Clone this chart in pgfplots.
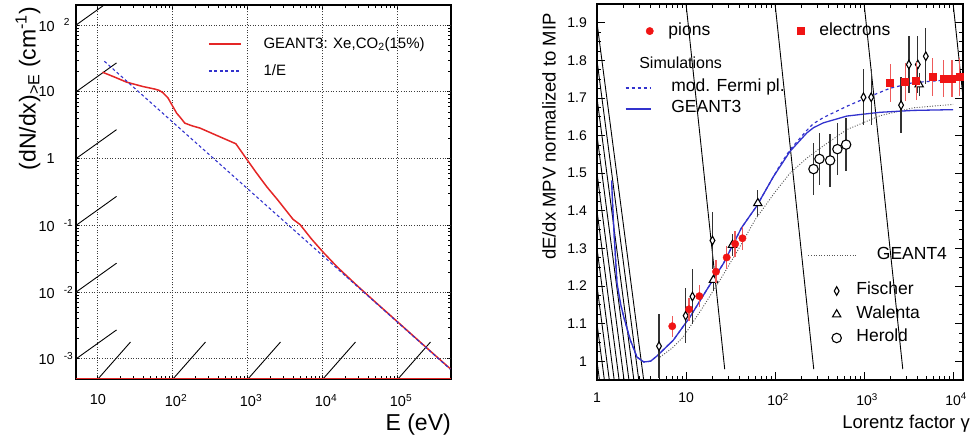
\documentclass[border=0pt]{standalone}
\usepackage{fontspec}
\setmainfont{Liberation Sans}
\usepackage{pgfplots}
\pgfplotsset{compat=1.18}
\definecolor{g3red}{RGB}{228,38,38}
\definecolor{eblue}{RGB}{50,50,205}
\definecolor{pired}{RGB}{240,20,20}
\definecolor{errred}{RGB}{238,90,90}
\definecolor{errgray}{RGB}{50,50,50}
\definecolor{g4gray}{RGB}{85,85,85}
\definecolor{gridgray}{RGB}{60,60,60}
\tikzset{tk/.style={black, line width=0.9pt}, gl/.style={gridgray, dash pattern=on 1pt off 1.6pt, line width=0.9pt}}

\pgfplotsset{
  lgd/.style={legend cell align=left,
    legend style={draw=none, fill=none, inner sep=0pt, outer sep=0pt,
      font=\fontsize{17.5}{20}\selectfont,
      nodes={inner sep=0pt, text height=12pt, text depth=4pt}}},
}

\begin{document}
\begin{tikzpicture}
\path (0,0) rectangle (973pt,440pt);

% ---------------- left panel ----------------
\begin{axis}[scale only axis, anchor=south west,
  axis line style={line width=1.3pt},
  tick align=inside,
  tick style={black, line width=0.9pt},
  lgd,
  at={(76pt,61pt)}, width=375pt, height=374pt,
  xmode=log, ymode=log,
  xmin=5.1, xmax=5.1e5, ymin=5e-4, ymax=200,
  grid=major,
  grid style={gridgray, dash pattern=on 1pt off 1.6pt, line width=0.9pt},
  xtick={10,100,1000,10000,100000},
  xticklabels={10, 10\rlap{\textsuperscript{2}}, 10\rlap{\textsuperscript{3}}, 10\rlap{\textsuperscript{4}}, 10\rlap{\textsuperscript{5}}},
  ytick={1e-3,1e-2,1e-1,1,10,100},
  yticklabels={10\rlap{\hspace{9pt}\textsuperscript{-3}}, 10\rlap{\hspace{9pt}\textsuperscript{-2}}, 10\rlap{\hspace{9pt}\textsuperscript{-1}}, 1\hspace{-4pt}, 10, 10\rlap{\hspace{9pt}\textsuperscript{2}}},
  tick label style={font=\fontsize{14.5}{16}\selectfont},
  xticklabel style={anchor=north, inner sep=0pt, yshift=-15pt},
  yticklabel style={anchor=east, inner sep=0pt, xshift=-21pt},
  xlabel={E (eV)},
  xlabel style={at={(axis description cs:1,0)}, anchor=north east, inner sep=0pt, yshift=-35pt, font=\fontsize{23}{26}\selectfont},
  ylabel={(dN/dx)\textsubscript{>E} (cm\textsuperscript{-1})},
  ylabel style={at={(axis description cs:-0.128,0.995)}, anchor=east, inner sep=0pt, font=\fontsize{23}{26}\selectfont},
  legend image code/.code={\draw[#1] (0pt,0pt) -- (32pt,0pt);},
  legend style={at={(0.352,0.917)}, anchor=north west, font=\fontsize{15}{17}\selectfont,
    /tikz/every odd column/.append style={column sep=22pt}, row sep=11pt},
]
\draw[gl] (axis cs:10,5e-4) -- (axis cs:10,200);
\draw[gl] (axis cs:100,5e-4) -- (axis cs:100,200);
\draw[gl] (axis cs:1000,5e-4) -- (axis cs:1000,200);
\draw[gl] (axis cs:10000,5e-4) -- (axis cs:10000,200);
\draw[gl] (axis cs:100000,5e-4) -- (axis cs:100000,200);
\draw[gl] (axis cs:5.1,1e-3) -- (axis cs:5.1e5,1e-3);
\draw[gl] (axis cs:5.1,1e-2) -- (axis cs:5.1e5,1e-2);
\draw[gl] (axis cs:5.1,1e-1) -- (axis cs:5.1e5,1e-1);
\draw[gl] (axis cs:5.1,1) -- (axis cs:5.1e5,1);
\draw[gl] (axis cs:5.1,10) -- (axis cs:5.1e5,10);
\draw[gl] (axis cs:5.1,100) -- (axis cs:5.1e5,100);
\draw[tk] (axis cs:10,5e-4) -- ++(0,8pt);
\draw[tk] (axis cs:100,5e-4) -- ++(0,8pt);
\draw[tk] (axis cs:1000,5e-4) -- ++(0,8pt);
\draw[tk] (axis cs:10000,5e-4) -- ++(0,8pt);
\draw[tk] (axis cs:100000,5e-4) -- ++(0,8pt);
\draw[tk] (axis cs:10,200) -- ++(0,-8pt);
\draw[tk] (axis cs:100,200) -- ++(0,-8pt);
\draw[tk] (axis cs:1000,200) -- ++(0,-8pt);
\draw[tk] (axis cs:10000,200) -- ++(0,-8pt);
\draw[tk] (axis cs:100000,200) -- ++(0,-8pt);
\draw[tk] (axis cs:5.1,1e-3) -- ++(8pt,0);
\draw[tk] (axis cs:5.1,1e-2) -- ++(8pt,0);
\draw[tk] (axis cs:5.1,1e-1) -- ++(8pt,0);
\draw[tk] (axis cs:5.1,1) -- ++(8pt,0);
\draw[tk] (axis cs:5.1,10) -- ++(8pt,0);
\draw[tk] (axis cs:5.1,100) -- ++(8pt,0);
\draw[tk] (axis cs:5.1e5,1e-3) -- ++(-8pt,0);
\draw[tk] (axis cs:5.1e5,1e-2) -- ++(-8pt,0);
\draw[tk] (axis cs:5.1e5,1e-1) -- ++(-8pt,0);
\draw[tk] (axis cs:5.1e5,1) -- ++(-8pt,0);
\draw[tk] (axis cs:5.1e5,10) -- ++(-8pt,0);
\draw[tk] (axis cs:5.1e5,100) -- ++(-8pt,0);
\addplot[g3red, line width=1.5pt] coordinates {
(11.5,19.7) (17,16.5) (24,14) (40,12) (57.5,11) (66,10.5) (73.6,9.7) (86,8.1)
(100,6.0) (112,4.8) (124,4.2) (144,3.4) (180,3.1) (229,2.87) (400,2.18) (690,1.67)
(800,1.32) (970,0.97) (1300,0.61) (1780,0.38) (2500,0.24) (4000,0.123) (4950,0.103)
(7000,0.063) (10000,0.040) (15400,0.024) (20000,0.0182) (30000,0.0119) (50000,0.0071)
(100000,0.00355) (200000,0.00177) (500000,0.00071)
};
\addlegendentry{GEANT3: Xe,CO\textsubscript{2}(15\%)}
\addplot[eblue, line width=1.1pt, dash pattern=on 3pt off 2.5pt] coordinates {
(12.2,28.7) (100,3.5) (1000,0.35) (10000,0.035) (100000,0.0035) (500000,0.0007)
};
\addlegendentry{1/E}
\addplot[g3red, line width=1.6pt, forget plot] coordinates {(5.1,5.06e-4) (5.1e5,5.06e-4)};
\end{axis}

% ---------------- right panel: frame + GEANT4 ----------------
\begin{axis}[scale only axis, anchor=south west,
  axis line style={line width=1.3pt},
  major tick length=8pt, minor tick length=4pt,
  tick style={black, line width=0.9pt},
  lgd,
  at={(597pt,60pt)}, width=366pt, height=376pt,
  xmode=log, xmin=1, xmax=1.29e4, ymin=0.95, ymax=1.95,
  xtick={1,10,100,1000,10000},
  xticklabels={1, 10, 10\rlap{\textsuperscript{2}}, 10\rlap{\textsuperscript{3}}, 10\rlap{\textsuperscript{4}}},
  ytick={1,1.1,1.2,1.3,1.4,1.5,1.6,1.7,1.8,1.9},
  yticklabels={1,1.1,1.2,1.3,1.4,1.5,1.6,1.7,1.8,1.9},
  minor y tick num=3,
  tick label style={font=\fontsize{14}{16}\selectfont},
  xticklabel style={anchor=north, inner sep=0pt, yshift=-13pt},
  yticklabel style={anchor=east, inner sep=0pt, xshift=-10pt},
  xlabel={Lorentz factor γ},
  xlabel style={at={(axis description cs:1,0)}, anchor=north east, inner sep=0pt, xshift=7pt, yshift=-35pt, font=\fontsize{18.5}{20}\selectfont},
  ylabel={dE/dx MPV normalized to MIP},
  ylabel style={at={(axis description cs:-0.131,0.976)}, anchor=east, inner sep=0pt, font=\fontsize{18.5}{20}\selectfont},
  legend image code/.code={\draw[#1] (0pt,0pt) -- (47pt,0pt);},
  legend style={at={(0.5765,0.3324)}, anchor=west,
    /tikz/every odd column/.append style={column sep=21pt}},
]
\draw[tk] (axis cs:10,0.95) -- ++(0,8pt);
\draw[tk] (axis cs:100,0.95) -- ++(0,8pt);
\draw[tk] (axis cs:1000,0.95) -- ++(0,8pt);
\draw[tk] (axis cs:10000,0.95) -- ++(0,8pt);
\draw[tk] (axis cs:10,1.95) -- ++(0,-8pt);
\draw[tk] (axis cs:100,1.95) -- ++(0,-8pt);
\draw[tk] (axis cs:1000,1.95) -- ++(0,-8pt);
\draw[tk] (axis cs:10000,1.95) -- ++(0,-8pt);
\draw[tk] (axis cs:1,1.0) -- ++(8pt,0);
\draw[tk] (axis cs:1,1.1) -- ++(8pt,0);
\draw[tk] (axis cs:1,1.2) -- ++(8pt,0);
\draw[tk] (axis cs:1,1.3) -- ++(8pt,0);
\draw[tk] (axis cs:1,1.4) -- ++(8pt,0);
\draw[tk] (axis cs:1,1.5) -- ++(8pt,0);
\draw[tk] (axis cs:1,1.6) -- ++(8pt,0);
\draw[tk] (axis cs:1,1.7) -- ++(8pt,0);
\draw[tk] (axis cs:1,1.8) -- ++(8pt,0);
\draw[tk] (axis cs:1,1.9) -- ++(8pt,0);
\draw[tk] (axis cs:1.29e4,1.0) -- ++(-8pt,0);
\draw[tk] (axis cs:1.29e4,1.1) -- ++(-8pt,0);
\draw[tk] (axis cs:1.29e4,1.2) -- ++(-8pt,0);
\draw[tk] (axis cs:1.29e4,1.3) -- ++(-8pt,0);
\draw[tk] (axis cs:1.29e4,1.4) -- ++(-8pt,0);
\draw[tk] (axis cs:1.29e4,1.5) -- ++(-8pt,0);
\draw[tk] (axis cs:1.29e4,1.6) -- ++(-8pt,0);
\draw[tk] (axis cs:1.29e4,1.7) -- ++(-8pt,0);
\draw[tk] (axis cs:1.29e4,1.8) -- ++(-8pt,0);
\draw[tk] (axis cs:1.29e4,1.9) -- ++(-8pt,0);
\addplot[g4gray, line width=0.9pt, dash pattern=on 1pt off 1.6pt] coordinates {
(5.1,1.011) (7,1.035) (9.33,1.065) (15.6,1.145) (24.1,1.216) (40.4,1.305) (59.6,1.376)
(100,1.45) (147,1.50) (227,1.54) (349,1.573) (640,1.616) (1513,1.653) (3580,1.674) (10000,1.683)
};
\addlegendentry{GEANT4}
\end{axis}

% ---------------- simulations: mod. Fermi plateau, GEANT3 ----------------
\begin{axis}[hide axis, scale only axis, anchor=south west,
  at={(597pt,60pt)}, width=366pt, height=376pt,
  xmode=log, xmin=1, xmax=1.29e4, ymin=0.95, ymax=1.95, lgd,
  legend image code/.code={\draw[#1] (0pt,0pt) -- (25pt,0pt);},
  legend style={at={(0.0765,0.798)}, anchor=north west, row sep=5pt,
    /tikz/every odd column/.append style={column sep=20pt}}]
\addplot[eblue, line width=1.2pt, dash pattern=on 3pt off 3pt] coordinates {
(1.46,1.48) (1.5,1.413) (1.55,1.345) (1.6,1.29) (1.677,1.208) (1.85,1.15) (1.995,1.118)
(2.37,1.056) (2.81,1.011) (3.35,0.998) (4.0,1.0) (4.72,1.014) (7.2,1.056) (11.1,1.118)
(17.1,1.19) (26.3,1.26) (42,1.355) (62.3,1.413) (95.8,1.491) (114,1.522) (147,1.562)
(227,1.614) (270,1.632) (349,1.648) (640,1.678) (1000,1.698) (1960,1.726) (3580,1.741) (10000,1.749)
};
\addlegendentry{mod. Fermi pl.}
\addplot[eblue, line width=1.3pt] coordinates {
(1.46,1.48) (1.5,1.413) (1.55,1.345) (1.6,1.29) (1.677,1.208) (1.85,1.15) (1.995,1.118)
(2.37,1.056) (2.81,1.011) (3.35,0.998) (4.0,1.0) (4.72,1.014) (7.2,1.056) (11.1,1.118)
(17.1,1.19) (26.3,1.26) (42,1.355) (62.3,1.413) (95.8,1.491) (114,1.518) (147,1.558)
(227,1.607) (270,1.621) (349,1.634) (640,1.652) (1513,1.662) (3580,1.667) (10000,1.669)
};
\addlegendentry{GEANT3}
\node[anchor=west, inner sep=0pt, font=\fontsize{16}{18}\selectfont] at (axis description cs:0.115,0.843) {Simulations};
\end{axis}

% ---------------- Fischer / Walenta / Herold ----------------
\begin{axis}[hide axis, scale only axis, anchor=south west,
  at={(597pt,60pt)}, width=366pt, height=376pt,
  xmode=log, xmin=1, xmax=1.29e4, ymin=0.95, ymax=1.95, lgd,
  legend image code/.code={\draw[#1] plot coordinates {(0pt,0pt)};},
  legend style={at={(0.642,0.258)}, anchor=north west, row sep=7.5pt,
    /tikz/every odd column/.append style={column sep=15pt}}]
\addplot[black, only marks, mark=diamond*, mark size=4.3pt, mark options={fill=white, line width=1.1pt, xscale=0.75},
  error bars/.cd, y dir=both, y explicit, error mark=none, error bar style={errgray, line width=1.3pt}]
coordinates {
(4.97,1.04) +- (0,0.085) (9.9,1.121) +- (0,0.073) (11.8,1.172) +- (0,0.074) (19.8,1.321) +- (0,0.075)
(983,1.702) +- (0,0.075) (1200,1.702) +- (0,0.075) (2600,1.681) +- (0,0.075)
(3180,1.789) +- (0,0.075) (4010,1.789) +- (0,0.075) (4930,1.811) +- (0,0.075)
};
\addlegendentry{Fischer}
\addplot[black, only marks, mark=triangle*, mark size=4.8pt, mark options={fill=white, line width=1.1pt},
  error bars/.cd, y dir=both, y explicit, error mark=none, error bar style={errgray, line width=1.3pt}]
coordinates {
(20.3,1.216) +- (0,0.03) (33.2,1.309) +- (0,0.03) (64,1.42) +- (0,0.035) (4150,1.736) +- (0,0.03)
};
\addlegendentry{Walenta}
\addplot[black, only marks, mark=*, mark size=4.7pt, mark options={fill=white, line width=1.1pt},
  error bars/.cd, y dir=both, y explicit, error mark=none, error bar style={errgray, line width=1.3pt}]
coordinates {
(270,1.511) +- (0,0.07) (315,1.538) +- (0,0.07) (415,1.534) +- (0,0.07) (501,1.564) +- (0,0.07) (628,1.576) +- (0,0.07)
};
\addlegendentry{Herold}
\end{axis}

% ---------------- pions / electrons ----------------
\begin{axis}[hide axis, scale only axis, anchor=south west,
  at={(597pt,60pt)}, width=366pt, height=376pt,
  xmode=log, xmin=1, xmax=1.29e4, ymin=0.95, ymax=1.95, lgd, legend columns=2,
  legend image code/.code={\draw[#1] plot coordinates {(0pt,0pt)};},
  legend style={at={(0.134,0.928)}, anchor=west,
    /tikz/every odd column/.append style={column sep=15pt},
    /tikz/every even column/.append style={column sep=87pt}}]
\addplot[pired, only marks, mark=*, mark size=3.7pt, mark options={fill=pired},
  error bars/.cd, y dir=both, y explicit, error mark=none, error bar style={errred, line width=1.3pt}]
coordinates {
(7.0,1.093) +- (0,0.028) (10.8,1.138) +- (0,0.03) (14.1,1.173) +- (0,0.03) (21.7,1.238) +- (0,0.03)
(28.6,1.276) +- (0,0.03) (35.6,1.312) +- (0,0.035) (43,1.327) +- (0,0.03)
};
\addlegendentry{pions}
\addplot[pired, only marks, mark=square*, mark size=3.5pt, mark options={fill=pired},
  error bars/.cd, y dir=both, y explicit, error mark=none, error bar style={errred, line width=1.3pt}]
coordinates {
(1960,1.7405) +- (0,0.05) (2890,1.743) +- (0,0.05) (3840,1.745) +- (0,0.05) (5910,1.756) +- (0,0.05)
(7780,1.752) +- (0,0.05) (9670,1.752) +- (0,0.05) (11800,1.756) +- (0,0.05)
};
\addlegendentry{electrons}
\end{axis}
\end{tikzpicture}
\end{document}
